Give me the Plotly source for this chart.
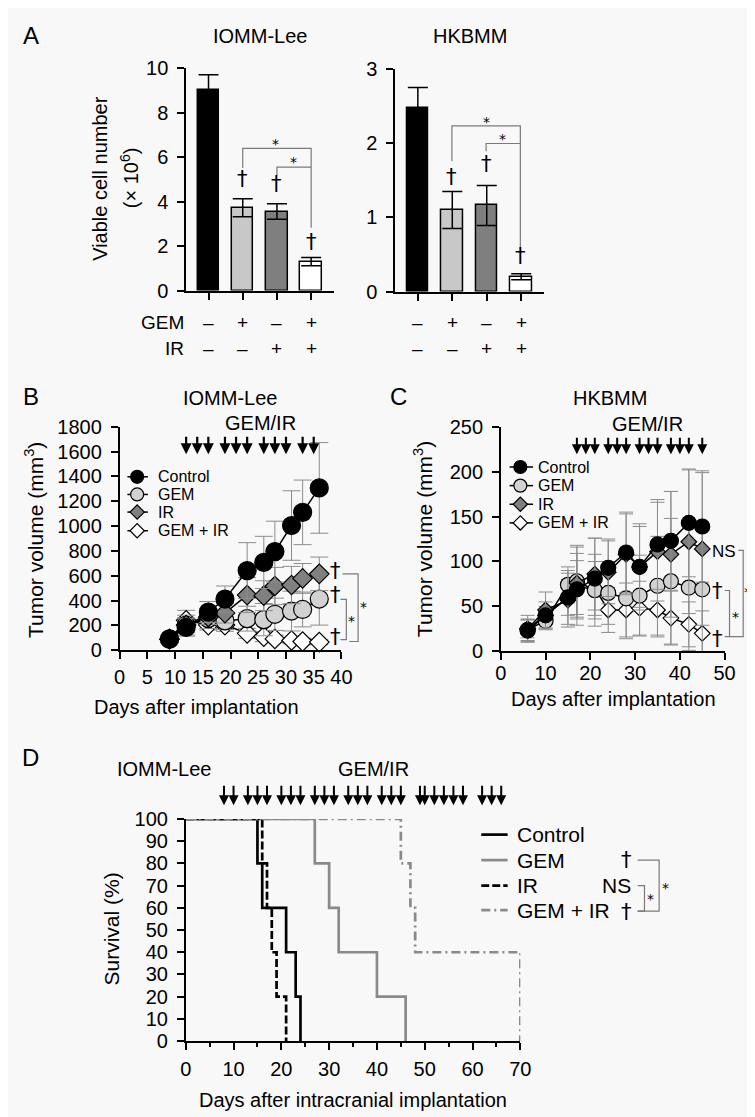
import plotly.graph_objects as go

W, H = 755, 1117
FONT = "Liberation Sans, Arial, Helvetica, sans-serif"
SYMFONT = "DejaVu Sans, Liberation Sans, sans-serif"
BG = "#f8f8f8"
LIGHT = "#d2d2d2"
DARK = "#808080"
ERRC = "#8c8c8c"
BRK = "#7a7a7a"

# ---------------- Panel A data ----------------
a_pos = [0, 1, 2, 3]
a_gem_sign = ["–", "+", "–", "+"]
a_ir_sign = ["–", "–", "+", "+"]
a_colors = ["#000000", "#c8c8c8", "#7f7f7f", "#ffffff"]
a_iomm_mean = [9.0, 3.72, 3.55, 1.3]
a_iomm_err = [0.7, 0.4, 0.35, 0.18]
a_hkbmm_mean = [2.48, 1.1, 1.16, 0.2]
a_hkbmm_err = [0.27, 0.25, 0.27, 0.04]

# ---------------- Panel B data (IOMM-Lee) ----------------
b_days = [9, 12, 16, 19, 23, 26, 28, 31, 33, 36]
b_control = [92, 184, 308, 413, 642, 708, 795, 1005, 1111, 1308]
b_control_err = [20, 70, 85, 105, 225, 210, 245, 280, 260, 365]
b_gem = [90, 203, 255, 237, 255, 247, 290, 316, 329, 413]
b_gem_err = [20, 60, 80, 70, 100, 130, 130, 160, 140, 210]
b_ir = [90, 203, 268, 300, 445, 440, 518, 526, 579, 616]
b_ir_err = [20, 80, 60, 80, 140, 120, 150, 150, 120, 135]
b_gemir = [90, 242, 203, 203, 137, 110, 92, 79, 71, 66]
b_gemir_err = [20, 80, 40, 50, 40, 40, 30, 25, 25, 20]
b_dose_days = [12, 14, 16, 19, 21, 23, 26, 28, 30, 33, 35]

# ---------------- Panel C data (HKBMM) ----------------
c_days = [6, 10, 15, 17, 21, 24, 28, 31, 35, 38, 42, 45]
c_control = [23, 40, 60, 69, 81, 93, 110, 94, 119, 123, 143, 139]
c_control_err = [12, 15, 30, 40, 45, 32, 45, 48, 50, 55, 60, 62]
c_gem = [24, 34, 74, 78, 68, 65, 59, 62, 73, 78, 71, 69]
c_gem_err = [12, 10, 20, 40, 40, 35, 45, 45, 55, 70, 70, 70]
c_ir = [25, 46, 57, 76, 86, 88, 108, 94, 111, 108, 122, 114]
c_ir_err = [15, 20, 30, 40, 40, 35, 45, 45, 55, 70, 80, 85]
c_gemir = [25, 40, 60, 71, 70, 46, 46, 48, 46, 37, 30, 20]
c_gemir_err = [10, 10, 20, 30, 30, 25, 30, 30, 30, 30, 25, 25]
c_dose_days = [17, 19, 21, 24, 26, 28, 31, 33, 35, 38, 40, 42, 45]

# ---------------- Panel D data (survival) ----------------
d_control_t = [0, 15, 16, 21, 23, 24]
d_control_s = [100, 80, 60, 40, 20, 0]
d_gem_t = [0, 27, 30, 32, 40, 46]
d_gem_s = [100, 80, 60, 40, 20, 0]
d_ir_t = [0, 16, 17, 18, 19, 21]
d_ir_s = [100, 80, 60, 40, 20, 0]
d_gemir_t = [0, 45, 47, 48, 70]
d_gemir_s = [100, 80, 60, 40, 0]
d_dose_days = [8, 10, 13, 15, 17, 20, 22, 24, 27, 29, 31, 34, 36, 38, 41, 43, 45,
               49, 50, 52, 54, 56, 58, 62, 64, 66]

series_labels = ["Control", "GEM", "IR", "GEM + IR"]
series_style = {
    "Control": dict(symbol="circle", color="#000000"),
    "GEM": dict(symbol="circle", color=LIGHT),
    "IR": dict(symbol="diamond", color=DARK),
    "GEM + IR": dict(symbol="diamond", color="#ffffff"),
}


def py(y):
    return 1 - y / H


def pxx(x):
    return x / W


fig = go.Figure()

# ---- Panel A bars ----
for xa, ya, mean, err in [("x", "y", a_iomm_mean, a_iomm_err), ("x2", "y2", a_hkbmm_mean, a_hkbmm_err)]:
    fig.add_trace(go.Bar(
        x=a_pos, y=mean, width=0.63, xaxis=xa, yaxis=ya, showlegend=False,
        marker=dict(color=a_colors, line=dict(color="black", width=1.5)),
        error_y=dict(type="data", array=err, color="black", thickness=1.5, width=10),
    ))

# ---- Panels B & C growth curves ----
b_series = {"Control": (b_control, b_control_err), "GEM": (b_gem, b_gem_err),
            "IR": (b_ir, b_ir_err), "GEM + IR": (b_gemir, b_gemir_err)}
c_series = {"Control": (c_control, c_control_err), "GEM": (c_gem, c_gem_err),
            "IR": (c_ir, c_ir_err), "GEM + IR": (c_gemir, c_gemir_err)}
order = ["GEM + IR", "GEM", "IR", "Control"]
for days, ser, xa, ya, csize, dsize, cap in [(b_days, b_series, "x3", "y3", 18, 15, 9),
                                             (c_days, c_series, "x4", "y4", 15, 12, 7)]:
    for name in order:
        vals, errs = ser[name]
        st = series_style[name]
        fig.add_trace(go.Scatter(
            x=days, y=vals, mode="lines+markers", xaxis=xa, yaxis=ya, showlegend=False,
            cliponaxis=False,
            line=dict(color="black", width=1.5),
            marker=dict(symbol=st["symbol"], size=csize if st["symbol"] == "circle" else dsize,
                        color=st["color"], line=dict(color="black", width=1.2)),
            error_y=dict(type="data", array=errs, color=ERRC, thickness=1, width=cap),
        ))

# ---- Panel D survival ----
surv = [
    ("Control", d_control_t, d_control_s, "black", "solid"),
    ("GEM", d_gem_t, d_gem_s, "#8a8a8a", "solid"),
    ("IR", d_ir_t, d_ir_s, "black", "8px,3px"),
    ("GEM + IR", d_gemir_t, d_gemir_s, "#8a8a8a", "9px,4px,2px,4px"),
]
for name, t, s, col, dash in surv:
    fig.add_trace(go.Scatter(x=t, y=s, mode="lines", xaxis="x5", yaxis="y5", showlegend=False,
                             cliponaxis=False,
                             line=dict(shape="hv", color=col, width=2.7, dash=dash)))

# ---- manual legends (pixel overlay axis x9/y9) ----
def legend_rows(rows_y, x1, x2, xm, size_c, size_d):
    for name, yy in zip(series_labels, rows_y):
        st = series_style[name]
        fig.add_trace(go.Scatter(x=[x1, x2], y=[yy, yy], mode="lines", xaxis="x9", yaxis="y9",
                                 showlegend=False, line=dict(color="black", width=1.5)))
        fig.add_trace(go.Scatter(x=[xm], y=[yy], mode="markers", xaxis="x9", yaxis="y9",
                                 showlegend=False,
                                 marker=dict(symbol=st["symbol"],
                                             size=size_c if st["symbol"] == "circle" else size_d,
                                             color=st["color"], line=dict(color="black", width=1.2))))

legend_rows([467, 485, 503, 522], 116, 137, 126, 13, 11)
legend_rows([457, 476, 495, 514], 507, 531, 518, 13, 11)

for (name, t, s, col, dash), yy in zip(surv, [832, 858, 884, 909]):
    fig.add_trace(go.Scatter(x=[478, 505], y=[yy, yy], mode="lines", xaxis="x9", yaxis="y9",
                             showlegend=False, line=dict(color=col, width=2.7, dash=dash)))

# ---------------- axes ----------------
common = dict(showline=True, linecolor="black", linewidth=1.5, ticks="outside", ticklen=7,
              tickwidth=1.5, tickcolor="black", showgrid=False, zeroline=False, tickangle=0,
              tickfont=dict(family=FONT, size=20, color="black"), fixedrange=True)
ycommon = {**common, "ticklabelstandoff": 5}

layout_axes = dict(
    xaxis={**common, "domain": [pxx(176), pxx(327)], "range": [-0.657, 3.657], "tickvals": a_pos,
           "showticklabels": False, "ticklen": 8, "anchor": "y"},
    yaxis={**ycommon, "domain": [py(277), py(50)], "range": [0, 10], "dtick": 2, "anchor": "x"},
    xaxis2={**common, "domain": [pxx(390), pxx(542)], "range": [-0.657, 3.657], "tickvals": a_pos,
            "showticklabels": False, "ticklen": 8, "anchor": "y2"},
    yaxis2={**ycommon, "domain": [py(278), py(51)], "range": [0, 3], "dtick": 1, "anchor": "x2"},
    xaxis3={**common, "domain": [pxx(108), pxx(335)], "range": [0, 40], "dtick": 5, "anchor": "y3",
            "ticklabelstandoff": 1},
    yaxis3={**ycommon, "domain": [py(644), py(416)], "range": [0, 1800], "dtick": 200, "anchor": "x3"},
    xaxis4={**common, "domain": [pxx(498), pxx(727)], "range": [0, 50], "dtick": 10, "anchor": "y4",
            "ticklabelstandoff": -4},
    yaxis4={**ycommon, "domain": [py(645), py(416)], "range": [0, 250], "dtick": 50, "anchor": "x4"},
    xaxis5={**common, "domain": [pxx(175.7), pxx(518)], "range": [0, 70], "dtick": 10, "anchor": "y5",
            "ticklabelstandoff": 2,
            "minor": dict(dtick=5, ticks="outside", ticklen=4, tickwidth=1.5, tickcolor="black")},
    yaxis5={**ycommon, "domain": [py(1042.7), py(816)], "range": [0, 100], "dtick": 10, "anchor": "x5"},
    xaxis9=dict(domain=[0, 1], range=[0, W], visible=False, fixedrange=True, anchor="y9"),
    yaxis9=dict(domain=[0, 1], range=[H, 0], visible=False, fixedrange=True, anchor="x9"),
)


# ---------------- annotations ----------------
ann = []


def txt(x, y, s, size=20, xanchor="center", yanchor="middle", angle=0, xref="x9", family=FONT):
    ann.append(dict(x=x, y=y, xref=xref, yref="y9", text=s, showarrow=False,
                    font=dict(family=family, size=size, color="#000000"),
                    xanchor=xanchor, yanchor=yanchor, textangle=angle))


def sym(x, y, s, size):
    txt(x, y, s, size, family=SYMFONT)


def arrows(days, xref, tip_y, length, width):
    for d in days:
        ann.append(dict(x=d, y=tip_y, xref=xref, yref="y9", text="", showarrow=True,
                        ax=0, ay=-length, axref="pixel", ayref="pixel", arrowhead=2,
                        arrowsize=1, arrowwidth=width, arrowcolor="black", standoff=0))


# panel letters
txt(17, 17, "A", 24)
txt(17, 385, "B", 24)
txt(393, 385, "C", 24)
txt(17, 753, "D", 24)

# Panel A
txt(252, 17, "IOMM-Lee", 20)
txt(466, 17, "HKBMM", 20)
txt(88, 163, "Viable cell number", 20, angle=-90)
txt(118, 162, "(× 10<sup>6</sup>)", 20, angle=-90)
txt(176, 310, "GEM", 19, xanchor="right")
txt(176, 336, "IR", 19, xanchor="right")
for xr in ["x", "x2"]:
    for i in a_pos:
        txt(i, 310, a_gem_sign[i], 19, xref=xr)
        txt(i, 336, a_ir_sign[i], 19, xref=xr)
for (x, y) in [(234, 163), (269, 168), (304, 227), (448, 161), (483, 148), (518, 242)]:
    sym(x, y, "†", 21)
for (x, y) in [(268, 127), (286, 146), (483, 105), (500, 122)]:
    sym(x, y, "*", 14)

# Panel B
txt(221, 387, "IOMM-Lee", 20)
txt(252, 412, "GEM/IR", 20)
txt(20, 532, "Tumor volume (mm<sup>3</sup>)", 21, angle=-90)
txt(187, 702, "Days after implantation", 20)
arrows(b_dose_days, "x3", 444, 19, 2.2)
for yy in [563, 588, 630]:
    sym(329, yy, "†", 21)
sym(358, 600, "*", 14)
sym(345, 614, "*", 14)
for name, yy in zip(series_labels, [467, 485, 503, 522]):
    txt(145, yy, name, 16, xanchor="left")

# Panel C
txt(610, 387, "HKBMM", 20)
txt(648, 413, "GEM/IR", 20)
txt(418, 531, "Tumor volume (mm<sup>3</sup>)", 21, angle=-90)
txt(613, 694, "Days after implantation", 20)
arrows(c_dose_days, "x4", 444, 18, 2.0)
txt(726, 543, "NS", 17)
sym(720, 583, "†", 21)
sym(720, 632, "†", 21)
sym(750, 585, "*", 14)
sym(738, 610, "*", 14)
for name, yy in zip(series_labels, [457, 476, 495, 514]):
    txt(534, yy, name, 16, xanchor="left")

# Panel D
txt(153, 765, "IOMM-Lee", 20)
txt(368, 765, "GEM/IR", 20)
txt(100, 928, "Survival (%)", 21, angle=-90)
txt(347, 1103, "Days after intracranial implantation", 20)
arrows(d_dose_days, "x5", 802, 21, 2.0)
for name, yy in zip(series_labels, [832, 858, 884, 909]):
    txt(513, yy, name, 21, xanchor="left")
sym(627, 858, "†", 21)
txt(633, 884, "NS", 21, xanchor="right")
sym(627, 911, "†", 21)
sym(666, 886, "*", 14)
sym(651, 898, "*", 14)

# ---------------- bracket shapes ----------------
shapes = []


def bracket(path):
    shapes.append(dict(type="path", path=path, xref="x9", yref="y9",
                       line=dict(color=BRK, width=1.2)))


bracket("M 234,152 V 132 H 304 V 213")
bracket("M 269,160 V 151 H 304")
bracket("M 448,145 V 109 H 518 V 233")
bracket("M 483,135 V 127 H 518")
bracket("M 336,566 H 352 V 635 H 343")
bracket("M 334,592 H 340 V 633 H 334")
bracket("M 741,542 H 746 V 630 H 732")
bracket("M 727,583 H 732 V 630 H 727")
bracket("M 638,858 H 660 V 910 H 638")
bracket("M 638,884 H 645 V 910 H 638")

fig.update_layout(
    width=W, height=H, margin=dict(l=0, r=0, t=0, b=0),
    paper_bgcolor=BG, plot_bgcolor="rgba(0,0,0,0)",
    font=dict(family=FONT, color="black"),
    showlegend=False, bargap=0,
    annotations=ann, shapes=shapes,
    **layout_axes,
)

fig.write_html("out.html")
